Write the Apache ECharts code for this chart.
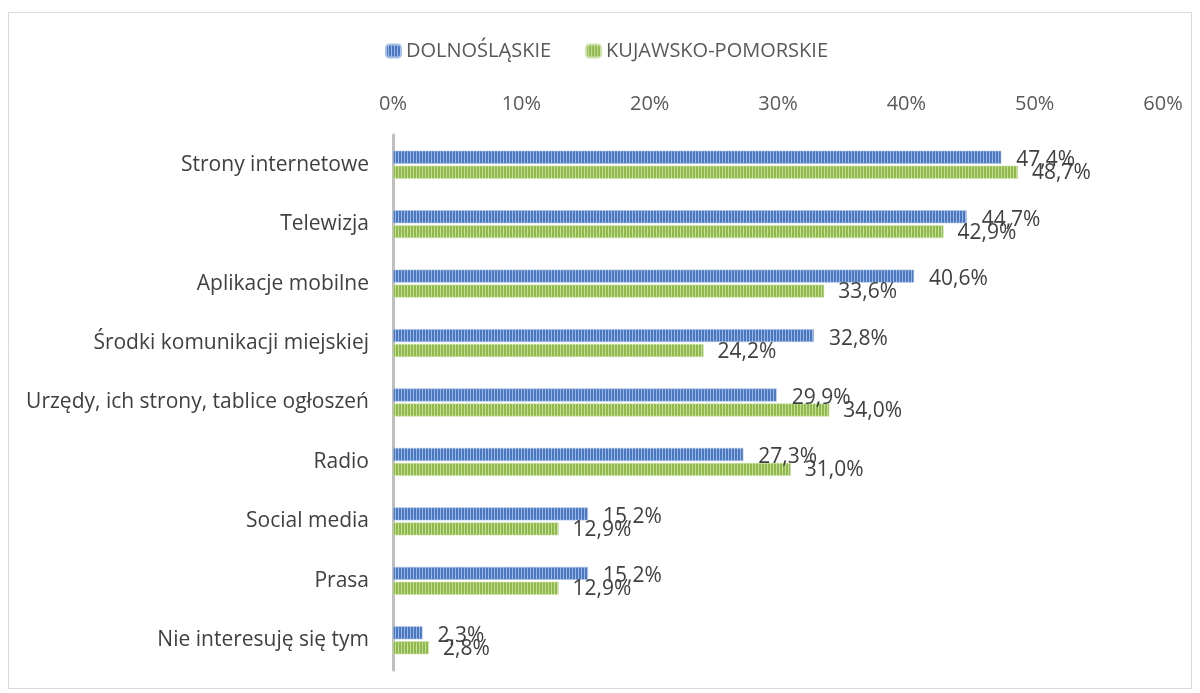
<!DOCTYPE html>
<html><head><meta charset="utf-8">
<script src="https://cdn.jsdelivr.net/npm/echarts@6/dist/echarts.min.js"></script>
<style>html,body{margin:0;padding:0;background:#fff}#c{width:1200px;height:693px}</style>
</head><body><div id="c"></div>
<script>
const categories = ["Strony internetowe","Telewizja","Aplikacje mobilne","Środki komunikacji miejskiej","Urzędy, ich strony, tablice ogłoszeń","Radio","Social media","Prasa","Nie interesuję się tym"];
const seriesNames = ["DOLNOŚLĄSKIE","KUJAWSKO-POMORSKIE"];
const dolnoslaskie = [47.4,44.7,40.6,32.8,29.9,27.3,15.2,15.2,2.3];
const kujawsko = [48.7,42.9,33.6,24.2,34.0,31.0,12.9,12.9,2.8];
const xTicks = [0,10,20,30,40,50,60];

function stripe(dark, light){
  const c = document.createElement('canvas');
  c.width = 3; c.height = 10;
  const g = c.getContext('2d');
  g.fillStyle = light; g.fillRect(0,0,3,10);
  g.fillStyle = dark; g.fillRect(0,0,2,10);
  return {image: c, repeat: 'repeat'};
}
const blue = stripe('#4a78c0','#9db8e2');
const green = stripe('#8fba4a','#c6dc9e');
const fmt = v => v.toFixed(1).replace('.', ',') + '%';
const font = '"Open Sans", "Liberation Sans", sans-serif';

const chart = echarts.init(document.getElementById('c'), null, {renderer:'canvas'});
chart.setOption({
  animation:false,
  textStyle:{fontFamily:font},
  graphic:[{type:'rect',shape:{x:8.5,y:12.5,width:1183,height:676},style:{fill:'none',stroke:'#d9d9d9',lineWidth:1},silent:true,z:-1}],
  legend:{
    top:36, left:380, itemWidth:15, itemHeight:13, itemGap:34,
    textStyle:{fontSize:20,color:'#595959',fontFamily:font},
    data:[{name:seriesNames[0],itemStyle:{color:blue}},{name:seriesNames[1],itemStyle:{color:green}}]
  },
  grid:{left:393,right:37,top:135,bottom:23,containLabel:false},
  xAxis:{
    type:'value', position:'top', min:xTicks[0], max:xTicks[xTicks.length-1], interval:10,
    axisLine:{show:false}, axisTick:{show:false}, splitLine:{show:false},
    axisLabel:{formatter:'{value}%', fontSize:20, color:'#595959', margin:21, fontFamily:font}
  },
  yAxis:{
    type:'category', inverse:true, data:categories,
    axisLine:{show:true,lineStyle:{color:'#bfbfbf',width:3}}, axisTick:{show:false},
    axisLabel:{fontSize:21,color:'#404040',margin:24,fontFamily:font}
  },
  series:[
    {name:seriesNames[0],type:'bar',data:dolnoslaskie,barWidth:13,barGap:'15%',
     itemStyle:{color:blue,borderColor:'#a9c1e6',borderWidth:0.6},
     label:{show:true,position:'right',distance:15,offset:[0,3],formatter:p=>fmt(p.value),fontSize:21,color:'#404040',fontFamily:font}},
    {name:seriesNames[1],type:'bar',data:kujawsko,barWidth:13,barGap:'15%',
     itemStyle:{color:green,borderColor:'#cfe2ad',borderWidth:0.6},
     label:{show:true,position:'right',distance:14,offset:[0,1],formatter:p=>fmt(p.value),fontSize:21,color:'#404040',fontFamily:font}}
  ]
});
</script></body></html>
